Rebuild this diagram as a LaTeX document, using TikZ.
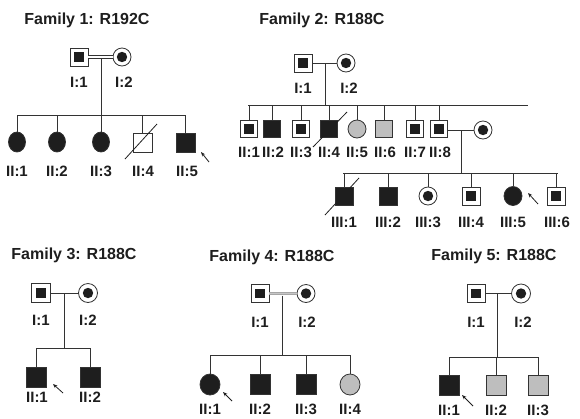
\documentclass[tikz,border=0pt]{standalone}
\usepackage{fontspec}
\setmainfont{Liberation Sans}
\usetikzlibrary{shapes.geometric,arrows.meta}
\definecolor{ink}{HTML}{1E1E1E}
\definecolor{grayfill}{HTML}{BEBEBE}
\definecolor{lin}{HTML}{333333}
\tikzset{
  sq/.style={rectangle, draw=lin, line width=0.8pt, minimum size=18pt, inner sep=0pt, fill=white},
  sqa/.style={sq, fill=ink},
  sqg/.style={sq, fill=grayfill},
  sqc/.style={sq, path picture={\fill[ink] ([xshift=-4.6pt,yshift=-4.6pt]path picture bounding box.center) rectangle ([xshift=4.6pt,yshift=4.6pt]path picture bounding box.center);}},
  ci/.style={ellipse, draw=lin, line width=0.8pt, minimum width=18pt, minimum height=18pt, inner sep=0pt, fill=white},
  cia/.style={ci, fill=ink},
  cig/.style={ci, fill=grayfill},
  cic/.style={ci, path picture={\fill[ink] (path picture bounding box.center) circle[radius=5.2pt];}},
  lbl/.style={font=\bfseries\fontsize{15}{15}\selectfont, text=ink, inner sep=0pt},
  ttl/.style={font=\bfseries\fontsize{16}{16}\selectfont, text=ink, inner sep=0pt},
  arr/.style={-{Stealth[length=4.5pt,width=3.5pt]}, line width=0.8pt, draw=ink},
  slash/.style={line width=0.8pt, draw=ink},
}
\begin{document}
\begin{tikzpicture}[x=1pt,y=-1pt, color=lin, line width=0.8pt]
\useasboundingbox (0,0) rectangle (580,418);

% ================= Family 1 =================
\node[ttl] (t1) at (87,20) {Family 1: R192C};
\node[sqc] (f1a) at (79,57) {};
\node[cic] (f1b) at (122,57) {};
\node[lbl] (f1la) at (79,82) {I:1};
\node[lbl] (f1lb) at (124,82) {I:2};
\draw[double=white, double distance=2.2pt, line width=0.7pt] (f1a.east) -- (f1b.west);
\coordinate (f1m) at (101,58.8);
\coordinate (f1s) at (101,115);
\draw (f1m) -- (f1s);
\node[cia, minimum width=17pt, minimum height=20pt] (f1c1) at (17,142) {};
\node[cia, minimum width=17pt, minimum height=20pt] (f1c2) at (57,142) {};
\node[cia, minimum width=17pt, minimum height=20pt] (f1c3) at (101,142) {};
\node[sq, minimum size=19pt] (f1c4) at (142.5,142.5) {};
\node[sqa, minimum size=19pt] (f1c5) at (185.5,142.5) {};
\coordinate (f1sl) at (17,115);
\coordinate (f1sr) at (185.5,115);
\draw (f1sl) -- (f1sr);
\foreach \c in {f1c1,f1c2,f1c3,f1c4,f1c5} \draw (\c.north) -- (\c.north |- f1s);
\draw[slash] (125,159) -- (157,124);
\node[lbl] at (17,171) {II:1};
\node[lbl] at (57,171) {II:2};
\node[lbl] at (101,171) {II:3};
\node[lbl] at (143,171) {II:4};
\node[lbl] at (187,171) {II:5};
\coordinate (f1at) at (209,162);
\coordinate (f1ah) at (201,152);
\draw[arr] (f1at) -- (f1ah);

% ================= Family 2 =================
\node[ttl] (t2) at (322,20) {Family 2: R188C};
\node[sqc] (f2a) at (303,63) {};
\node[cic] (f2b) at (346,63) {};
\node[lbl] at (303,88) {I:1};
\node[lbl] at (349,88) {I:2};
\draw (f2a.east) -- (f2b.west);
\coordinate (f2m) at (325,63);
\coordinate (f2s) at (325,105);
\draw (f2m) -- (f2s);
\coordinate (f2sl) at (248,105);
\coordinate (f2sr) at (528,105);
\draw (f2sl) -- (f2sr);
\tikzset{g2/.style={minimum size=17pt}}
\node[sqc,g2] (f2c1) at (249,129) {};
\node[sqa,g2] (f2c2) at (272,129) {};
\node[sqc,g2] (f2c3) at (301,129) {};
\node[sqa,g2] (f2c4) at (329,129) {};
\node[cig,minimum width=18pt,minimum height=18pt] (f2c5) at (357,129) {};
\node[sqg,g2] (f2c6) at (384,129) {};
\node[sqc,g2] (f2c7) at (415,129) {};
\node[sqc,g2] (f2c8) at (439,129) {};
\foreach \c in {f2c1,f2c2,f2c3,f2c4,f2c5,f2c6,f2c7,f2c8} \draw (\c.north) -- (\c.north |- f2s);
\draw[slash] (313,147) -- (347,112);
\foreach \x/\t in {249/II:1,273/II:2,301/II:3,329/II:4,357/II:5,385/II:6,415/II:7,440/II:8}
  \node[lbl] at (\x,152) {\t};
\node[cic] (f2sp) at (483,130) {};
\draw (f2c8.east |- f2sp) -- (f2sp.west);
\coordinate (f2m2) at (461,130);
\coordinate (f2s2) at (461,173);
\draw (f2m2) -- (f2s2);
\coordinate (f2tl) at (343,173);
\coordinate (f2tr) at (558,173);
\draw (f2tl) -- (f2tr);
\node[sqa] (f2d1) at (344,196) {};
\node[sqa] (f2d2) at (388,196) {};
\node[cic] (f2d3) at (428,196) {};
\node[sqc] (f2d4) at (471,196) {};
\node[cia, minimum width=18pt, minimum height=19pt] (f2d5) at (513,196) {};
\node[sqc] (f2d6) at (556,196) {};
\foreach \c in {f2d1,f2d2,f2d3,f2d4,f2d5,f2d6} \draw (\c.north) -- (\c.north |- f2s2);
\draw[slash] (325,215) -- (359,178);
\foreach \x/\t in {344/III:1,388/III:2,428/III:3,471/III:4,513/III:5,557/III:6}
  \node[lbl] at (\x,222) {\t};
\coordinate (f2at) at (538,204);
\coordinate (f2ah) at (528,193);
\draw[arr] (f2at) -- (f2ah);

% ================= Family 3 =================
\node[ttl] (t3) at (74,255) {Family 3: R188C};
\node[sqc, minimum size=19pt] (f3a) at (41,293) {};
\node[cic, minimum width=19pt, minimum height=19pt] (f3b) at (88,293) {};
\node[lbl] at (41,320) {I:1};
\node[lbl] at (88,320) {I:2};
\draw (f3a.east) -- (f3b.west);
\coordinate (f3m) at (64,293);
\coordinate (f3s) at (64,348);
\draw (f3m) -- (f3s);
\coordinate (f3sl) at (36.5,348);
\coordinate (f3sr) at (90.5,348);
\draw (f3sl) -- (f3sr);
\node[sqa, minimum size=20pt] (f3c1) at (36.5,377.5) {};
\node[sqa, minimum size=20pt] (f3c2) at (90.5,377.5) {};
\foreach \c in {f3c1,f3c2} \draw (\c.north) -- (\c.north |- f3s);
\node[lbl] at (37,397) {II:1};
\node[lbl] at (90,397) {II:2};
\coordinate (f3at) at (63,393);
\coordinate (f3ah) at (53,384);
\draw[arr] (f3at) -- (f3ah);

% ================= Family 4 =================
\node[ttl] (t4) at (272,257) {Family 4: R188C};
\node[sqc] (f4a) at (260,293.5) {};
\node[cic] (f4b) at (306,293.5) {};
\node[lbl] at (260,322) {I:1};
\node[lbl] at (307,322) {I:2};
\draw[draw=gray!70, double=gray!45, double distance=1.6pt, line width=0.8pt] (f4a.east) -- (f4b.west);
\coordinate (f4m) at (282,295.5);
\coordinate (f4s) at (282,355);
\draw (f4m) -- (f4s);
\coordinate (f4sl) at (210,355);
\coordinate (f4sr) at (350,355);
\draw (f4sl) -- (f4sr);
\node[cia, minimum width=20pt, minimum height=21pt] (f4c1) at (210,384.5) {};
\node[sqa, minimum size=20pt] (f4c2) at (260,384) {};
\node[sqa, minimum size=20pt] (f4c3) at (306,384) {};
\node[cig, minimum width=20pt, minimum height=21pt] (f4c4) at (350,384.5) {};
\foreach \c in {f4c1,f4c2,f4c3,f4c4} \draw (\c.north) -- (\c.north |- f4s);
\node[lbl] at (210,409) {II:1};
\node[lbl] at (260,409) {II:2};
\node[lbl] at (306,409) {II:3};
\node[lbl] at (350,409) {II:4};
\coordinate (f4at) at (232,401);
\coordinate (f4ah) at (223,392);
\draw[arr] (f4at) -- (f4ah);

% ================= Family 5 =================
\node[ttl] (t5) at (494,256) {Family 5: R188C};
\node[sqc] (f5a) at (476,293.5) {};
\node[cic, minimum width=19pt, minimum height=19pt] (f5b) at (521,293.5) {};
\node[lbl] at (476,322) {I:1};
\node[lbl] at (523,322) {I:2};
\draw (f5a.east) -- (f5b.west);
\coordinate (f5m) at (497,293.5);
\coordinate (f5s) at (497,357);
\draw (f5m) -- (f5s);
\coordinate (f5sl) at (449,357);
\coordinate (f5sr) at (538.5,357);
\draw (f5sl) -- (f5sr);
\node[sqa, minimum size=20pt] (f5c1) at (449,385) {};
\node[sqg, minimum size=20pt] (f5c2) at (496,385) {};
\node[sqg, minimum size=20pt] (f5c3) at (538.5,385) {};
\foreach \c in {f5c1,f5c2,f5c3} \draw (\c.north) -- (\c.north |- f5s);
\node[lbl] at (449,410.5) {II:1};
\node[lbl] at (496,410.5) {II:2};
\node[lbl] at (538,410.5) {II:3};
\coordinate (f5at) at (473,406);
\coordinate (f5ah) at (462,395);
\draw[arr] (f5at) -- (f5ah);
\end{tikzpicture}
\end{document}
